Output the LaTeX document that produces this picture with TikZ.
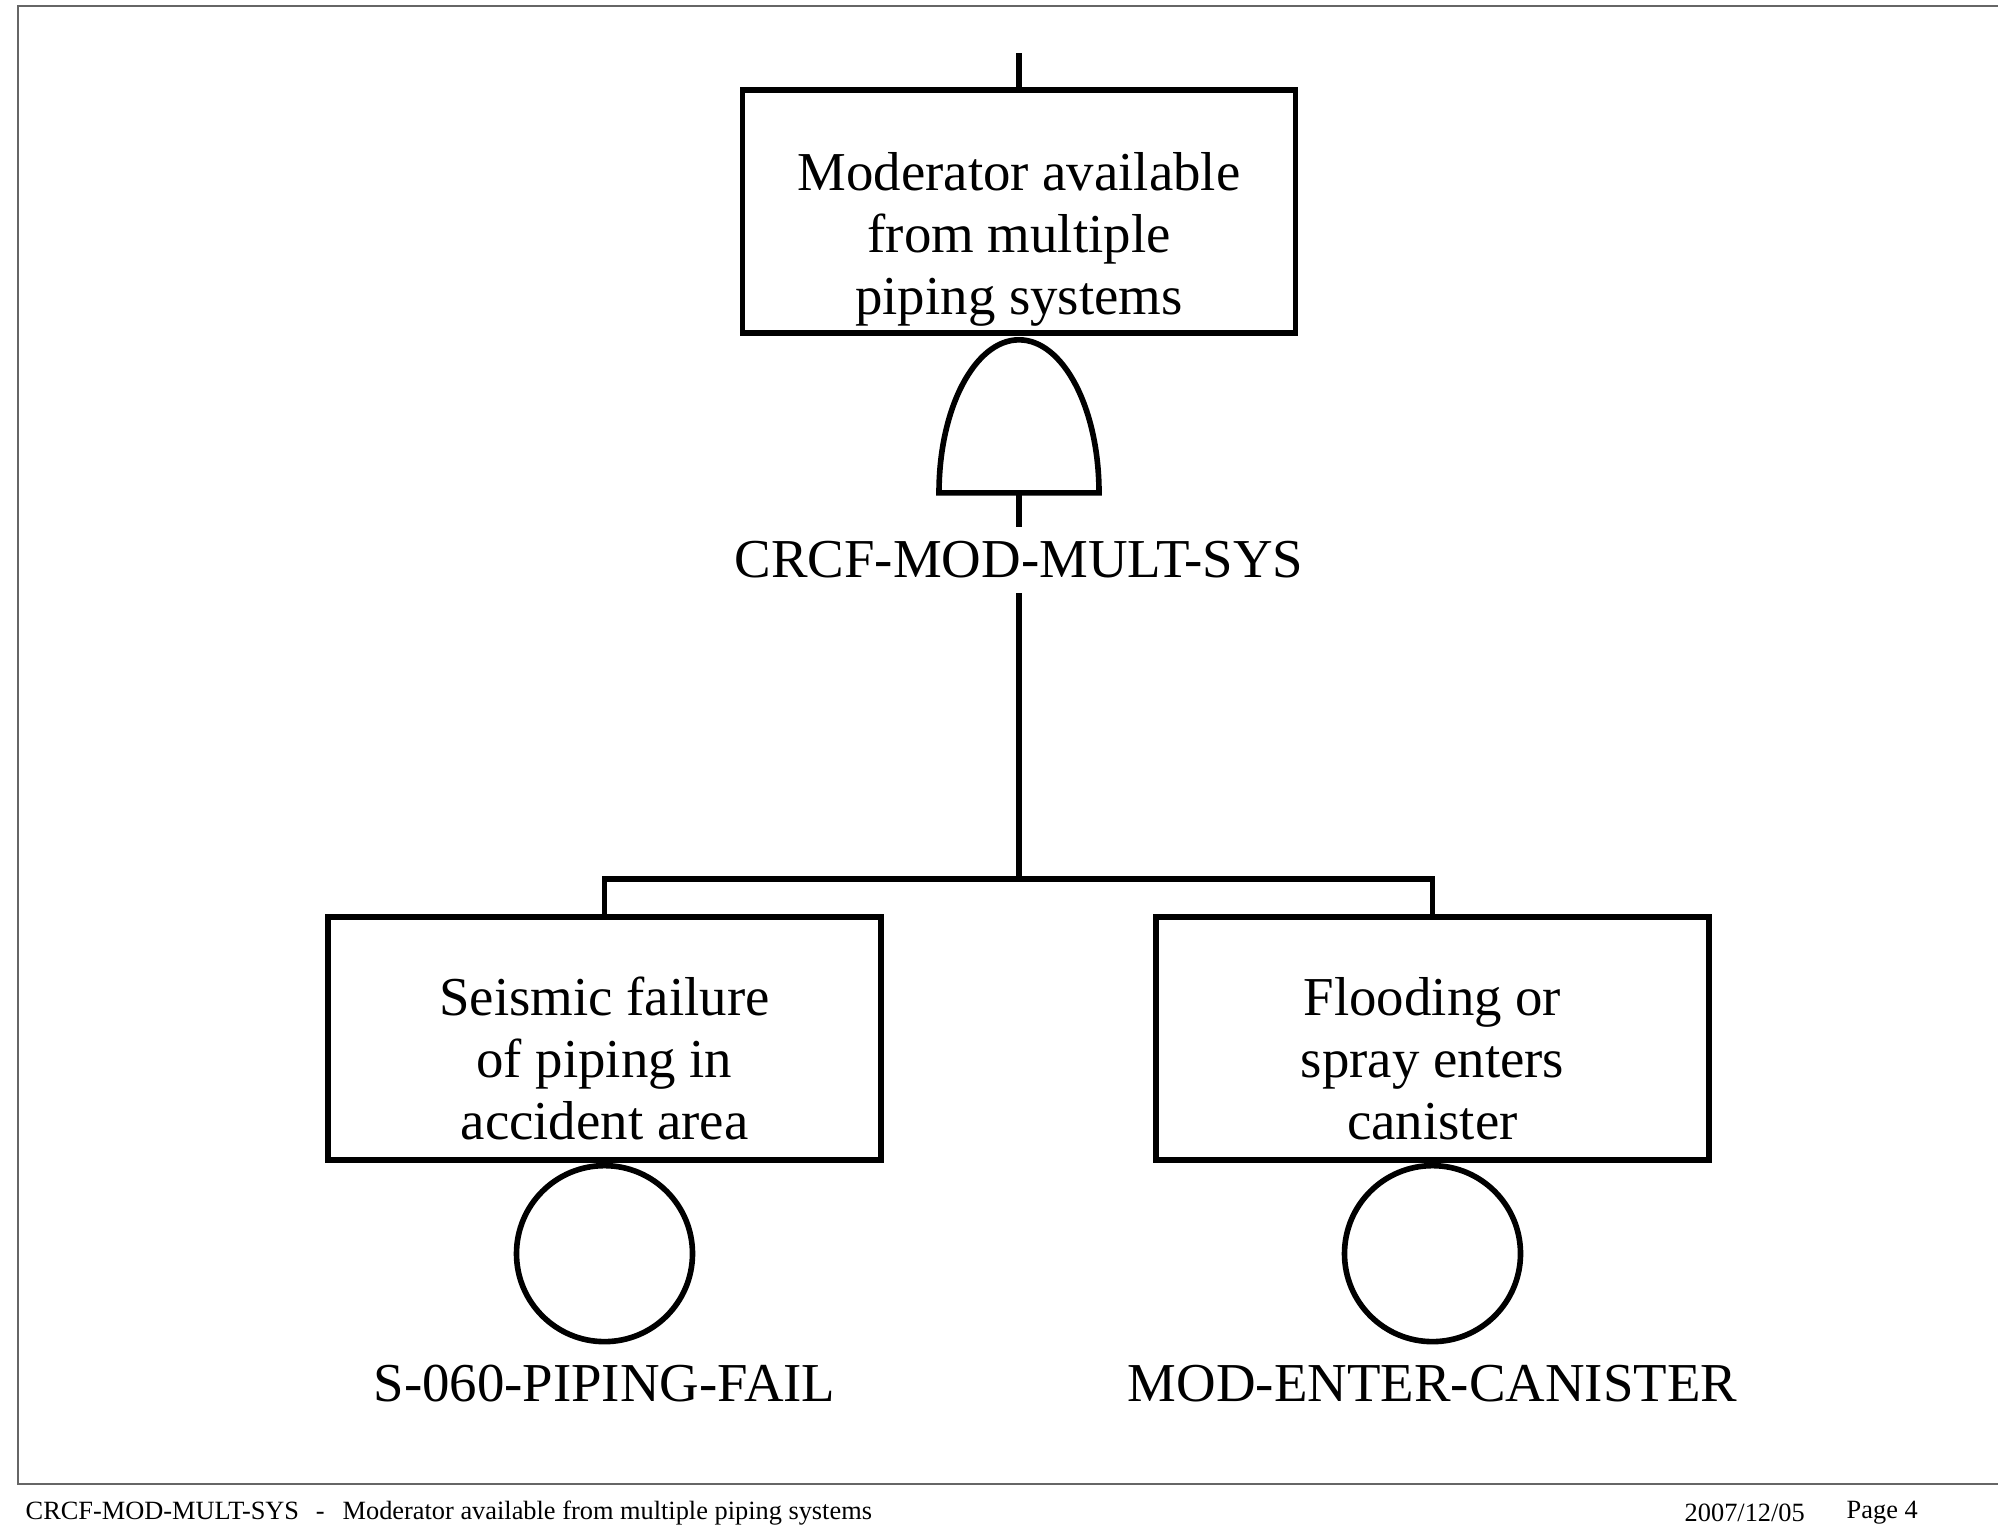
\documentclass[tikz,border=0pt]{standalone}
\usepackage{fontspec}
\setmainfont{Liberation Serif}
\usetikzlibrary{positioning}
\begin{document}
\begin{tikzpicture}[
        node distance=0.34cm,
        eventbox/.style={rectangle, draw=black, line width=1.6pt, minimum width=5.53cm, minimum height=2.43cm},
        eventtxt/.style={align=center, inner sep=0pt, font=\fontsize{15.6}{17.6}\selectfont},
        gatebox/.style={rectangle, minimum width=1.6cm, minimum height=1.53cm, inner sep=0pt, outer sep=0pt},
        basic/.style={circle, draw=black, line width=1.6pt, minimum size=1.76cm, inner sep=0pt},
        idlbl/.style={inner sep=0.14cm, font=\fontsize{15.6}{17.6}\selectfont},
        footer/.style={anchor=west, inner sep=0pt, font=\fontsize{7.5}{9}\selectfont},
        link/.style={line width=1.6pt},
        frame/.style={line width=0.5pt, draw=black!60}
    ]
        \useasboundingbox (0,0) rectangle (19.98,-15.32);
        \draw[frame] (19.98,-0.06) -- (0.18,-0.06) -- (0.18,-14.84) -- (19.98,-14.84);

        \node (top) [eventbox] at (10.19,-2.115) {};
        \node (toptxt) [eventtxt] at ([yshift=-0.28cm]top.center) {Moderator available\\from multiple\\piping systems};
        \coordinate (stub) at ([yshift=0.34cm]top.north);
        \node (gate) [gatebox, below=0.04cm of top] {};
        \node (gatelbl) [idlbl, below=of gate] {CRCF-MOD-MULT-SYS};

        \node (left) [eventbox] at (6.045,-10.385) {};
        \node (lefttxt) [eventtxt] at ([yshift=-0.2cm]left.center) {Seismic failure\\of piping in\\accident area};
        \node (right) [eventbox] at (14.325,-10.385) {};
        \node (righttxt) [eventtxt] at ([yshift=-0.2cm]right.center) {Flooding or\\spray enters\\canister};

        \node (leftbasic) [basic, below=0pt of left] {};
        \node (rightbasic) [basic, below=0pt of right] {};
        \node (leftid) [idlbl, below=0.06cm of leftbasic] {S-060-PIPING-FAIL};
        \node (rightid) [idlbl, below=0.06cm of rightbasic] {MOD-ENTER-CANISTER};

        \coordinate (junc) at ([yshift=0.35cm]left.north -| gatelbl.south);

        \draw[link] (stub) -- (top.north);
        \draw[link] (gate.south west) arc[start angle=180, end angle=0, x radius=0.8cm, y radius=1.53cm] -- cycle;
        \draw[link] (gate.south) -- (gatelbl.north);
        \draw[link] (gatelbl.south) -- (junc);
        \draw[link] (left.north) |- (junc) -| (right.north);

        \node (footl) [footer] at (0.25,-15.13) {CRCF-MOD-MULT-SYS\hspace{0.64em}-\hspace{0.68em}Moderator available from multiple piping systems};
        \node (date) [footer] at (16.84,-15.13) {2007/12/05};
        \node (page) [footer] at (18.46,-15.13) {Page 4};
    \end{tikzpicture}
\end{document}
